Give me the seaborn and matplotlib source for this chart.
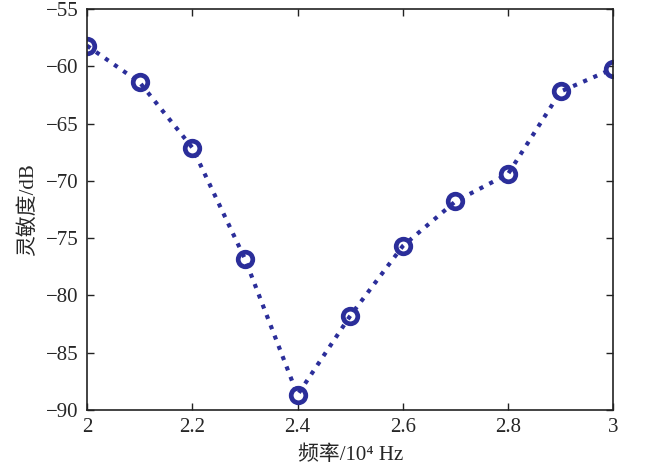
import pandas as pd
import matplotlib
matplotlib.use('Agg')
import matplotlib.pyplot as plt
import seaborn as sns

# sensitivity vs frequency
freq = [2.0, 2.1, 2.2, 2.3, 2.4, 2.5, 2.6, 2.7, 2.8, 2.9, 3.0]
sens = [-58.2, -61.4, -67.1, -76.8, -88.7, -81.8, -75.7, -71.8, -69.4, -62.2, -60.2]
xticks = [2, 2.2, 2.4, 2.6, 2.8, 3]
xtick_labels = ['2', '2.2', '2.4', '2.6', '2.8', '3']
yticks = [-55, -60, -65, -70, -75, -80, -85, -90]

df = pd.DataFrame({'freq': freq, 'sens': sens})

sns.set_style('ticks')
plt.rcParams['font.family'] = ['Liberation Serif', 'Noto Sans CJK SC', 'DejaVu Sans']
plt.rcParams['xtick.direction'] = 'in'
plt.rcParams['ytick.direction'] = 'in'
plt.rcParams['axes.unicode_minus'] = True

fig, ax = plt.subplots(figsize=(6.49, 4.76), dpi=100)
sns.lineplot(data=df, x='freq', y='sens', ax=ax, color='#2b2e9a',
             linestyle=':', linewidth=3, marker='o', markersize=10.5,
             markerfacecolor='none', markeredgecolor='#2b2e9a',
             markeredgewidth=3.4)

ax.set_xlim(2, 3)
ax.set_ylim(-90, -55)
ax.set_xticks(xticks)
ax.set_xticklabels(xtick_labels)
ax.set_yticks(yticks)
ax.tick_params(axis='both', labelsize=15, top=True, right=True,
               length=5, width=1, color='#222222', pad=6)
for s in ax.spines.values():
    s.set_linewidth(1.2)
    s.set_color('#222222')

ax.set_xlabel('频率/10⁴ Hz', fontsize=15, labelpad=6)
ax.set_ylabel('灵敏度/dB', fontsize=15, labelpad=6)

fig.subplots_adjust(left=0.134, right=0.945, top=0.981, bottom=0.139)
fig.savefig('out.png', dpi=100)
